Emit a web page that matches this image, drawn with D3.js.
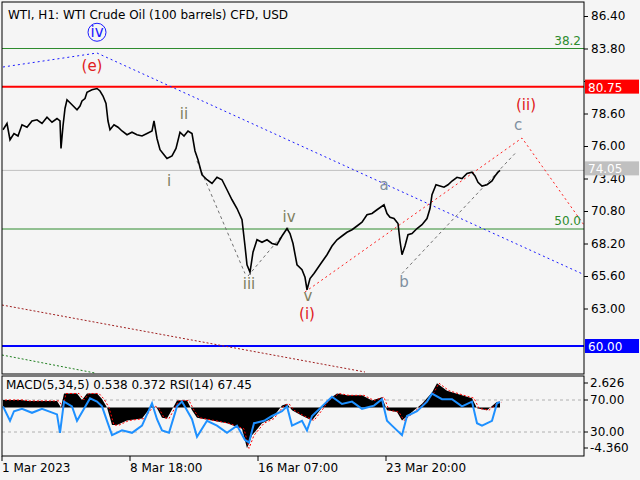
<!DOCTYPE html><html><head><meta charset="utf-8"><script src="https://cdn.jsdelivr.net/npm/d3@7"></script>
<style>body{margin:0;background:#f5f5f5}text{font-family:"DejaVu Sans",sans-serif}</style></head><body><svg id="c" width="640" height="480"></svg><script>
const priceTicks=[86.40,83.80,81.20,78.60,76.00,73.40,70.80,68.20,65.60,63.00];
const hiddenTicks=[81.20];
const dateLabels=[[0,"1 Mar 2023"],[128,"8 Mar 18:00"],[256,"16 Mar 07:00"],[384,"23 Mar 20:00"]];
const price=[[1,77.3],[5,77.8],[8,76.5],[12,77.0],[16,76.8],[20,77.7],[25,77.5],[30,78.0],[35,78.1],[40,77.8],[45,78.3],[50,77.9],[55,78.2],[58,78.0],[59,75.8],[61,77.6],[63,79.0],[65,79.7],[70,79.3],[75,78.9],[78,79.2],[80,79.6],[83,79.8],[85,80.3],[90,80.5],[95,80.6],[98,80.4],[101,80.0],[104,79.4],[106,78.0],[108,77.3],[112,77.7],[116,77.5],[120,77.2],[125,76.9],[130,77.1],[135,76.9],[140,76.8],[145,77.0],[150,77.2],[152,78.0],[155,76.6],[158,75.7],[162,75.3],[165,75.0],[170,75.2],[174,75.8],[178,77.1],[182,76.8],[186,77.2],[190,77.0],[193,75.6],[196,74.9],[200,73.7],[205,73.3],[210,73.0],[215,73.5],[220,73.3],[225,72.5],[230,71.7],[235,71.0],[240,70.1],[243,68.0],[245,66.5],[248,65.9],[251,67.5],[255,68.5],[260,68.3],[265,68.5],[270,68.2],[275,68.1],[280,68.8],[285,69.4],[288,69.0],[291,68.2],[295,66.5],[300,66.1],[303,65.5],[305,64.5],[308,65.4],[312,65.8],[318,66.5],[325,67.3],[330,68.0],[335,68.5],[340,68.8],[345,69.1],[350,69.3],[355,69.6],[360,69.9],[365,70.5],[370,70.6],[375,70.9],[382,71.3],[385,70.6],[388,70.3],[392,70.2],[396,69.8],[398,68.4],[400,67.3],[403,68.0],[406,68.9],[410,69.0],[415,69.4],[420,69.7],[425,70.2],[428,71.0],[430,72.1],[434,72.9],[438,72.8],[442,72.7],[446,72.9],[450,73.2],[455,73.5],[460,73.4],[465,73.8],[470,73.9],[473,73.6],[476,73.1],[480,72.8],[485,72.9],[490,73.2],[493,73.6],[496,73.9],[498,74.05]];
const macd=[[1,0.8],[20,0.8],[25,0.7],[55,0.7],[59,0.0],[62,1.5],[75,1.5],[80,0.8],[85,1.5],[95,1.5],[100,0.9],[105,0],[110,-1.9],[115,-1.9],[125,-1.4],[140,-1.2],[150,0.2],[155,-0.1],[160,-1.1],[165,-1.2],[175,0.75],[185,0.75],[190,-0.3],[195,-1.1],[210,-1.4],[225,-1.7],[240,-2.3],[245,-4.4],[250,-3.0],[260,-1.7],[270,-1.2],[280,0.2],[285,0.4],[290,-0.3],[300,-0.9],[310,-1.4],[318,-0.3],[325,0.75],[335,1.5],[345,1.3],[360,1.3],[370,0.75],[380,1.1],[385,-0.3],[395,-0.5],[400,-1.4],[410,-0.5],[420,0.4],[430,1.6],[435,2.6],[445,1.8],[460,1.3],[470,1.0],[475,-0.1],[485,-0.3],[495,0.6],[498,0.54]];
const rsi=[[1,62],[8,44],[12,56],[20,59],[30,54],[40,59],[55,52],[58,29],[62,68],[70,62],[75,44],[82,59],[88,72],[95,68],[100,62],[105,44],[110,26],[120,32],[130,29],[140,38],[150,66],[155,46],[160,32],[167,29],[175,62],[180,68],[190,46],[195,24],[205,44],[215,38],[225,29],[235,38],[243,20],[247,17],[252,41],[262,44],[270,50],[280,56],[285,62],[290,38],[300,44],[305,32],[310,50],[320,62],[330,74],[340,65],[350,68],[360,59],[372,63],[380,71],[385,44],[390,38],[400,26],[405,50],[415,56],[425,68],[430,78],[440,71],[450,71],[460,62],[470,68],[475,41],[480,38],[490,44],[495,66],[498,67.45]];
const blueWave=[[1,82.32],[95,83.44],[582,65.71]];
const redWave=[[303,64.32],[520,76.64],[582,69.68]];
const greyWaves=[[[195,74.8],[243,65.8]],[[246,65.6],[288,69.6]],[[400,65.8],[513,75.4]]];
const redDot=[[0,63.28],[363,57.92]];
const greenDot=[[0,59.28],[93,57.84]];
const waveLabels=[["iv",95,"#1a1aff",true],["(e)",90,"#e02020"],["ii",182,"#808060"],["i",167,"#808060"],["iii",247,"#808060"],["iv",287,"#808060"],["v",306,"#808060"],["(i)",305,"#e02020"],["a",382,"#7f8fa0"],["b",402,"#7f8fa0"],["c",516,"#7f8fa0"],["(ii)",524,"#e02020"]];
const labelPrices=[84.7,82.0,78.2,72.8,64.6,69.9,63.6,62.2,72.5,64.7,77.3,78.9];

const svg=d3.select("#c");
const L=2,R=584,T=2,B=374,MT=376,MB=456;
const x=d3.scaleLinear().domain([0,582]).range([L,R]);
const y=d3.scaleLinear().domain([60,86.4]).range([346,16]);
const ym=d3.scaleLinear().domain([-4.36,2.626]).range([448,383]);
const yr=d3.scaleLinear().domain([0,100]).range([MB,MT]);
svg.append("rect").attr("width",640).attr("height",480).attr("fill","#f5f5f5");
svg.append("clipPath").attr("id","cm").append("rect").attr("x",L).attr("y",T).attr("width",R-L).attr("height",B-T);
svg.append("clipPath").attr("id","cm2").append("rect").attr("x",L).attr("y",MT).attr("width",R-L).attr("height",MB-MT);
const g=svg.append("g").attr("clip-path","url(#cm)");
const line=d3.line().x(d=>x(d[0])).y(d=>y(d[1]));
function hl(v,c,w){g.append("line").attr("x1",L).attr("x2",R).attr("y1",y(v)).attr("y2",y(v)).attr("stroke",c).attr("stroke-width",w);}
hl(83.8,"#2e8b2e",1);hl(69.36,"#2e8b2e",1);hl(74.05,"#c0c0c0",1);hl(80.75,"#ff0000",2);hl(60,"#0000ff",2);
g.append("path").attr("d",line(blueWave)).attr("fill","none").attr("stroke","#1a1aff").attr("stroke-dasharray","2,3");
g.append("path").attr("d",line(redWave)).attr("fill","none").attr("stroke","#ff2020").attr("stroke-dasharray","2,3");
g.append("path").attr("d",line(redDot)).attr("fill","none").attr("stroke","#a02020").attr("stroke-dasharray","2,2");
g.append("path").attr("d",line(greenDot)).attr("fill","none").attr("stroke","#208020").attr("stroke-dasharray","2,2");
greyWaves.forEach(w=>g.append("path").attr("d",line(w)).attr("fill","none").attr("stroke","#707070").attr("stroke-dasharray","3,3"));
g.append("path").attr("d",line(price)).attr("fill","none").attr("stroke","#000").attr("stroke-width",1.6);
waveLabels.forEach((l,i)=>{g.append("text").attr("x",x(l[1])).attr("y",y(labelPrices[i])).attr("text-anchor","middle").attr("font-size",15).attr("fill",l[2]).text(l[0]);
 if(l[3])g.append("circle").attr("cx",x(l[1])).attr("cy",y(labelPrices[i])-5).attr("r",9).attr("fill","none").attr("stroke",l[2]);});
g.append("text").attr("x",581).attr("y",y(83.8)-4).attr("text-anchor","end").attr("font-size",12).attr("fill","#2e8b2e").text("38.2");
g.append("text").attr("x",581).attr("y",y(69.36)-4).attr("text-anchor","end").attr("font-size",12).attr("fill","#2e8b2e").text("50.0");
svg.append("text").attr("x",8).attr("y",19).attr("font-size",12).text("WTI, H1:  WTI Crude Oil (100 barrels) CFD, USD");
svg.append("rect").attr("x",L).attr("y",T).attr("width",R-L).attr("height",B-T).attr("fill","none").attr("stroke","#000");
svg.append("g").attr("transform",`translate(${R},0)`).call(d3.axisRight(y).tickValues(priceTicks).tickSize(4).tickFormat(d=>hiddenTicks.includes(d)?"":d3.format(".2f")(d))).call(a=>{a.select(".domain").remove();a.selectAll("text").attr("font-size",12).attr("font-family","DejaVu Sans");});
function box(v,bg,fg,dy){svg.append("rect").attr("x",R+1).attr("y",y(v)-7+dy).attr("width",54).attr("height",14).attr("fill",bg);svg.append("text").attr("x",R+4).attr("y",y(v)+5+dy).attr("font-size",12).attr("fill",fg).text(v.toFixed(2));}
box(80.75,"#ff0000","#fff",0);box(74.05,"#c0c0c0","#fff",-2);box(60,"#0000ff","#fff",0);
const g2=svg.append("g").attr("clip-path","url(#cm2)");
[70,30].forEach(v=>g2.append("line").attr("x1",L).attr("x2",R).attr("y1",yr(v)).attr("y2",yr(v)).attr("stroke","#b0b0b0").attr("stroke-dasharray","3,3"));
g2.append("path").attr("d",d3.area().x(d=>x(d[0])).y0(ym(0)).y1(d=>ym(d[1]))(macd)).attr("fill","#000");
g2.append("path").attr("d",d3.line().x(d=>x(d[0])+2).y(d=>ym(d[1]))(macd)).attr("fill","none").attr("stroke","#ff0000").attr("stroke-dasharray","2,2");
g2.append("path").attr("d",d3.line().x(d=>x(d[0])).y(d=>yr(d[1]))(rsi)).attr("fill","none").attr("stroke","#1e90ff").attr("stroke-width",2);
svg.append("text").attr("x",6).attr("y",389).attr("font-size",12).text("MACD(5,34,5) 0.538 0.372 RSI(14) 67.45");
svg.append("rect").attr("x",L).attr("y",MT).attr("width",R-L).attr("height",MB-MT).attr("fill","none").attr("stroke","#000");
const mt=[[ym(2.626),"2.626"],[yr(70),"70.00"],[yr(30),"30.00"],[ym(-4.36),"-4.360"]];
mt.forEach(m=>{svg.append("line").attr("x1",R).attr("x2",R+4).attr("y1",m[0]).attr("y2",m[0]).attr("stroke","#000");svg.append("text").attr("x",R+6).attr("y",m[0]+4).attr("font-size",12).text(m[1]);});
dateLabels.forEach(d=>{svg.append("line").attr("x1",x(d[0])).attr("x2",x(d[0])).attr("y1",MB).attr("y2",MB+5).attr("stroke","#000");svg.append("text").attr("x",x(d[0])).attr("y",472).attr("font-size",12).text(d[1]);});
</script></body></html>
